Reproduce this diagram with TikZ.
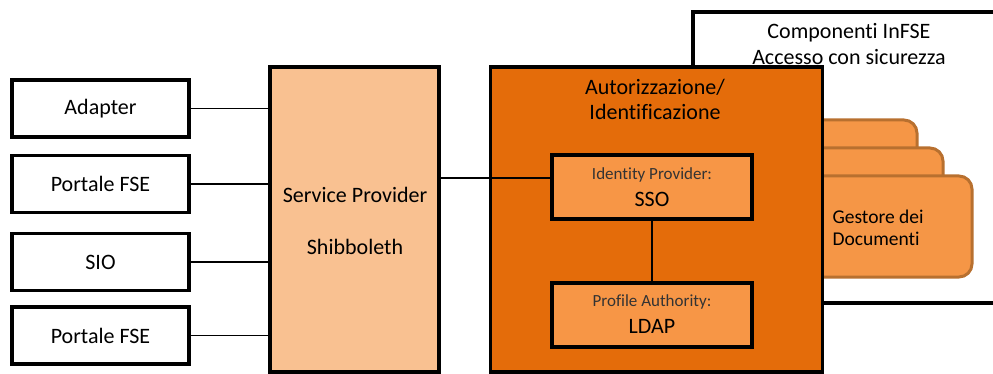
\documentclass[tikz,border=0pt]{standalone}
\usepackage{fontspec}
\setmainfont[Ligatures=NoCommon]{Carlito}
\definecolor{spfill}{HTML}{F9C191}
\definecolor{authfill}{HTML}{E46C0A}
\definecolor{innerfill}{HTML}{F79646}
\definecolor{gestfill}{HTML}{F59646}
\definecolor{gestline}{HTML}{B8702F}
\definecolor{smalltxt}{HTML}{333333}
\begin{document}
\begin{tikzpicture}[x=1pt,y=-1pt,
  client/.style={draw=black,line width=3.5pt,fill=white,minimum width=177pt,minimum height=57pt,font=\fontsize{22}{25}\selectfont,inner sep=0pt},
  inner/.style={draw=black,line width=3.5pt,fill=innerfill,minimum width=200pt,minimum height=64pt,inner sep=0pt},
  gest/.style={draw=gestline,line width=3pt,fill=gestfill,rounded corners=13pt},
  conn/.style={draw=black,line width=1.2pt},
  big/.style={font=\fontsize{22}{25}\selectfont},
  small/.style={font=\fontsize{17}{19}\selectfont,text=smalltxt}]
\useasboundingbox (0,0) rectangle (993,374);
% Components frame
\draw[line width=3.5pt] (1000,12) -- (693,12) -- (693,303) -- (1000,303);
\node[big,align=center] (comp) at (849,44) {Componenti InFSE\\[1pt]Accesso con sicurezza};
% Gestore stacked
\draw[gest] (790,120) rectangle (917,230);
\draw[gest] (790,148) rectangle (943,240);
\draw[gest] (790,176) rectangle (972,277);
\node[anchor=west,align=left,font=\fontsize{19.5}{22}\selectfont] (gest) at (829,228) {Gestore dei\\Documenti};
% Auth box
\node[draw=black,line width=3.5pt,fill=authfill,minimum width=332pt,minimum height=305pt,inner sep=0pt] (auth) at (656.5,219.5) {};
\node[big,align=center] (authtitle) at (655,99) {Autorizzazione/\\Identificazione};
\node[inner] (sso) at (652,187) {};
\node[small] (ssol1) at (652,175) {Identity Provider:};
\node[big] (ssol2) at (652,199) {SSO};
\node[inner] (ldap) at (652,315) {};
\node[small] (ldapl1) at (652,302) {Profile Authority:};
\node[big] (ldapl2) at (652,326) {LDAP};
\draw[conn] (sso.south) -- (ldap.north);
% Service provider
\node[draw=black,line width=3.5pt,fill=spfill,minimum width=169pt,minimum height=305pt,inner sep=0pt] (sp) at (354.5,219.5) {};
\node[big] (spl1) at (355,195) {Service Provider};
\node[big] (spl2) at (355,247) {Shibboleth};
% Clients
\node[client] (adapter) at (100.5,108.5) {Adapter};
\node[client] (portale1) at (100.5,184) {Portale FSE};
\node[client] (sio) at (100.5,262) {SIO};
\node[client] (portale2) at (100.5,335.5) {Portale FSE};
% Connectors
\draw[conn] (adapter.east) -- (adapter.east -| sp.west);
\draw[conn] (portale1.east) -- (portale1.east -| sp.west);
\draw[conn] (sio.east) -- (sio.east -| sp.west);
\draw[conn] (portale2.east) -- (portale2.east -| sp.west);
\coordinate (ssoin) at ([yshift=9pt]sso.west);
\coordinate (spout) at (sp.east |- ssoin);
\draw[conn] (spout) -- (ssoin);
\end{tikzpicture}
\end{document}
